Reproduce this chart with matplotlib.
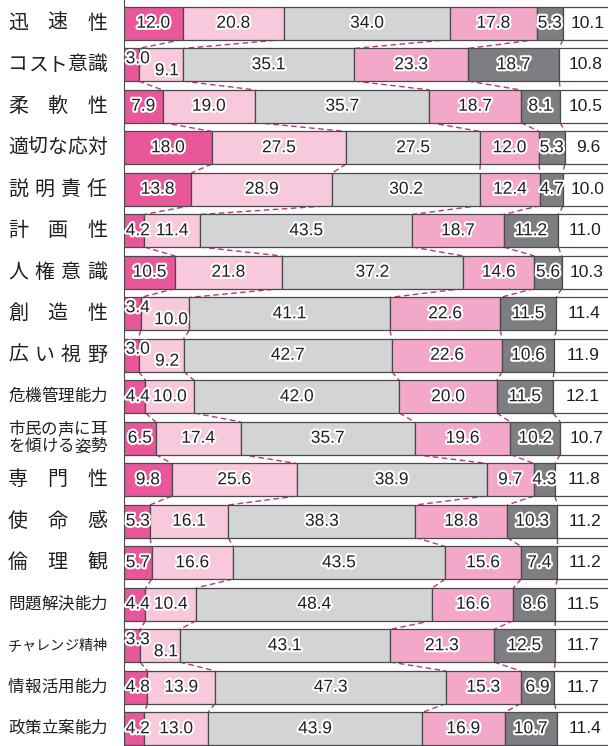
import matplotlib
matplotlib.use("Agg")
import matplotlib.pyplot as plt
import matplotlib.patheffects as pe
import numpy as np

# 行ラベル(上から順)
categories = [
    "迅速性", "コスト意識", "柔軟性", "適切な応対", "説明責任", "計画性",
    "人権意識", "創造性", "広い視野", "危機管理能力", "市民の声に耳\nを傾ける姿勢",
    "専門性", "使命感", "倫理観", "問題解決能力", "チャレンジ精神",
    "情報活用能力", "政策立案能力",
]

# 各区分の割合(%)
seg1 = [12.0, 3.0, 7.9, 18.0, 13.8, 4.2, 10.5, 3.4, 3.0, 4.4, 6.5, 9.8, 5.3, 5.7, 4.4, 3.3, 4.8, 4.2]
seg2 = [20.8, 9.1, 19.0, 27.5, 28.9, 11.4, 21.8, 10.0, 9.2, 10.0, 17.4, 25.6, 16.1, 16.6, 10.4, 8.1, 13.9, 13.0]
seg3 = [34.0, 35.1, 35.7, 27.5, 30.2, 43.5, 37.2, 41.1, 42.7, 42.0, 35.7, 38.9, 38.3, 43.5, 48.4, 43.1, 47.3, 43.9]
seg4 = [17.8, 23.3, 18.7, 12.0, 12.4, 18.7, 14.6, 22.6, 22.6, 20.0, 19.6, 9.7, 18.8, 15.6, 16.6, 21.3, 15.3, 16.9]
seg5 = [5.3, 18.7, 8.1, 5.3, 4.7, 11.2, 5.6, 11.5, 10.6, 11.5, 10.2, 4.3, 10.3, 7.4, 8.6, 12.5, 6.9, 10.7]
seg6 = [10.1, 10.8, 10.5, 9.6, 10.0, 11.0, 10.3, 11.4, 11.9, 12.1, 10.7, 11.8, 11.2, 11.2, 11.5, 11.7, 11.7, 11.4]

colors = ["#e9579b", "#f8c8dc", "#d3d4d6", "#f3a8ca", "#7d7e81", "#ffffff"]
edge = "#4a4a4a"
dash_col = "#b8367c"

W, H = 608, 746
fig = plt.figure(figsize=(W / 100, H / 100), dpi=100)
ax_left = 124
ax = fig.add_axes([ax_left / W, 0, 1 - ax_left / W, 1])
px_per_unit = 4.88
pitch = 41.5
ax.set_xlim(0, (W - ax_left) / px_per_unit)
ax.set_ylim((H - 23.25) / pitch, -23.25 / pitch)
for s in ["top", "right", "bottom"]:
    ax.spines[s].set_visible(False)
ax.spines["left"].set_color(edge)
ax.set_xticks([])
ax.set_yticks([])

data = np.array([seg1, seg2, seg3, seg4, seg5, seg6]).T
n = len(categories)
y = np.arange(n)
h = 0.785
cum = np.hstack([np.zeros((n, 1)), np.cumsum(data, axis=1)])

# 棒
for k in range(6):
    ax.barh(y, data[:, k], left=cum[:, k], height=h, color=colors[k],
            edgecolor=edge, linewidth=0.9, zorder=2)

# 区切りを結ぶ破線
for i in range(n - 1):
    for k in range(1, 6):
        ax.plot([cum[i, k], cum[i + 1, k]], [i + h / 2, i + 1 - h / 2],
                ls=(0, (4, 2.5)), color=dash_col, lw=1, zorder=1)

# 数値ラベル
num_font = dict(family="Liberation Sans", fontsize=12.5, color="#231f20")
stroke = [pe.withStroke(linewidth=3, foreground="white")]
dy = 6 / pitch
for i in range(n):
    tight = data[i, 0] < 3.5
    for k in range(6):
        v = data[i, k]
        x = cum[i, k] + v / 2
        yy = i
        ha = "center"
        if k == 0 and v < 6:
            x, ha = 0.35, "left"
            if tight:
                yy = i - dy
        if k == 1 and tight:
            x += 1.25
            yy = i + dy
        ax.text(x, yy, f"{v:.1f}", ha=ha, va="center",
                path_effects=stroke if k < 5 else None, zorder=4, **num_font)

# 行ラベル(均等割付)
jp = ["Noto Sans CJK JP", "DejaVu Sans"]
def put_line(txt, i, yoff):
    m = len(txt)
    em = min(20.0, 99.0 / m)
    c0, c1 = 8 + em / 2, 107 - em / 2
    cs = [c0] if m == 1 else np.linspace(c0, c1, m)
    for ch, c in zip(txt, cs):
        ax.annotate(ch, xy=(0, i), xycoords="data",
                    xytext=((c - ax_left) * 0.72, yoff), textcoords="offset points",
                    ha="center", va="center", fontsize=em * 0.72,
                    family=jp, color="#231f20")

for i, lab in enumerate(categories):
    lines = lab.split("\n")
    if len(lines) == 1:
        put_line(lines[0], i, 0)
    else:
        put_line(lines[0], i, 6.2)
        put_line(lines[1], i, -6.2)

fig.savefig("out.png", dpi=100)
